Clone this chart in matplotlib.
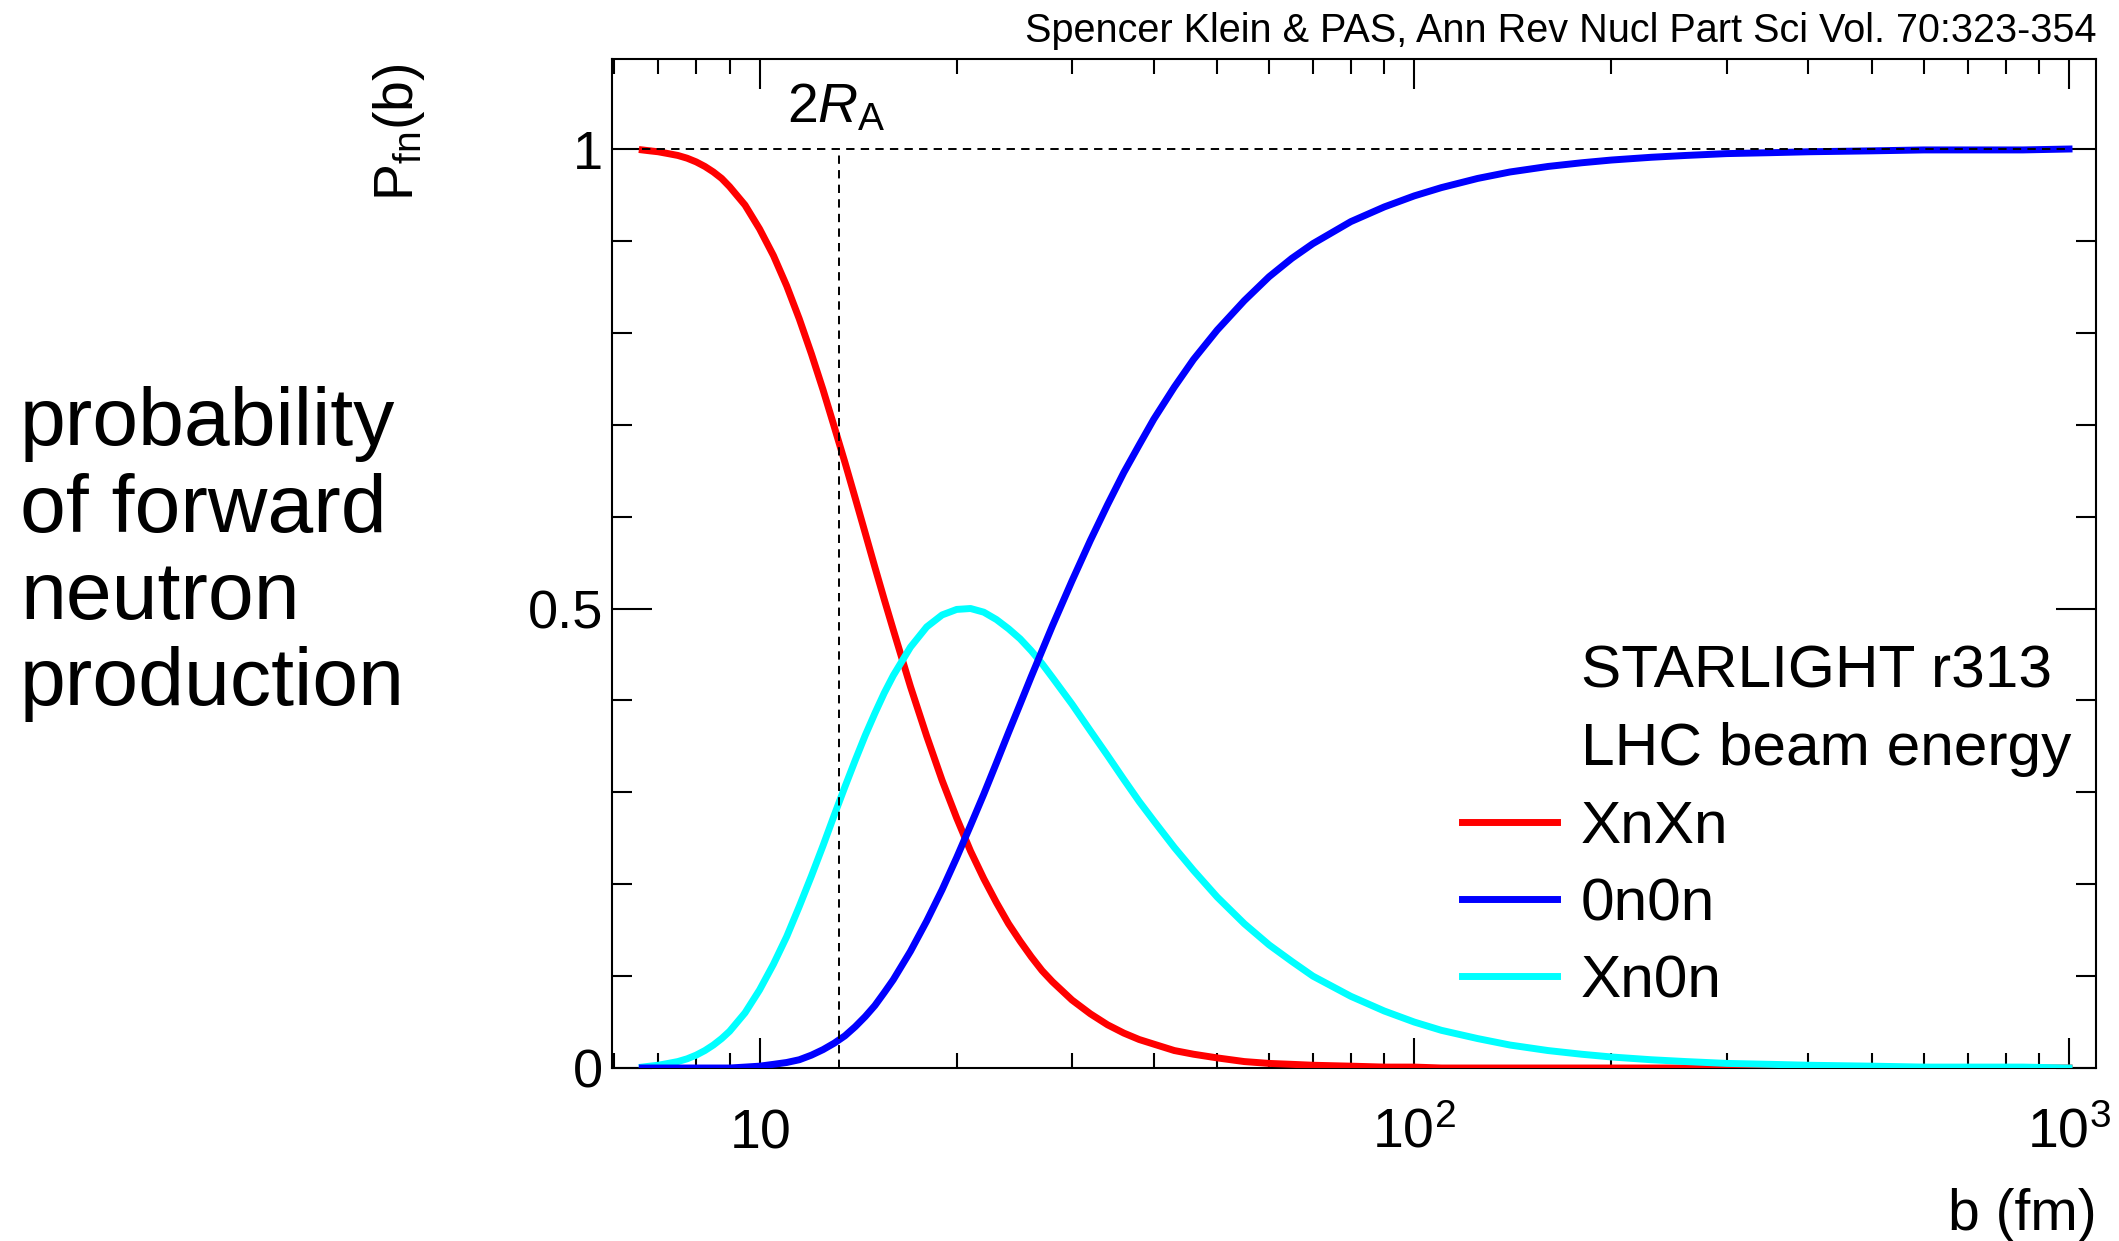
import matplotlib.pyplot as plt
from matplotlib.lines import Line2D
from matplotlib.ticker import FixedLocator, LogLocator, MultipleLocator, NullFormatter

plt.rcParams['font.family'] = 'Liberation Sans'
plt.rcParams['mathtext.fontset'] = 'custom'
plt.rcParams['mathtext.rm'] = 'Liberation Sans'
plt.rcParams['mathtext.it'] = 'Liberation Sans:italic'
plt.rcParams['lines.scale_dashes'] = False

# impact parameter (fm) and probabilities
b_fm = [6.62, 6.8, 7, 7.25, 7.5, 7.75, 8, 8.25, 8.5, 8.75, 9, 9.5, 10, 10.5, 11,
        11.5, 12, 12.5, 13, 13.5, 14, 14.5, 15, 15.5, 16, 17, 18, 19, 20, 21, 22,
        23, 24, 25, 26, 27, 28, 30, 32, 34, 36, 38, 40, 43, 46, 50, 55, 60, 65,
        70, 80, 90, 100, 110, 125, 140, 160, 180, 200, 230, 260, 300, 350, 400,
        500, 600, 700, 850, 1000]
xnxn = [0.999, 0.998, 0.997, 0.995, 0.993, 0.990, 0.986, 0.981, 0.975, 0.968,
        0.959, 0.939, 0.913, 0.884, 0.851, 0.815, 0.777, 0.738, 0.698, 0.659,
        0.620, 0.582, 0.545, 0.510, 0.477, 0.415, 0.361, 0.313, 0.272, 0.236,
        0.206, 0.180, 0.157, 0.138, 0.121, 0.106, 0.094, 0.074, 0.059, 0.047,
        0.038, 0.031, 0.026, 0.019, 0.015, 0.011, 0.007, 0.005, 0.004, 0.003,
        0.002, 0.001, 0.001, 0.000, 0.000, 0.000, 0.000, 0.000, 0.000, 0.000,
        0.000, 0.000, 0.000, 0.000, 0.000, 0.000, 0.000, 0.000, 0.000]
onon = [0.000, 0.000, 0.000, 0.000, 0.000, 0.000, 0.000, 0.000, 0.000, 0.000,
        0.000, 0.001, 0.002, 0.004, 0.006, 0.009, 0.014, 0.020, 0.027, 0.035,
        0.045, 0.056, 0.068, 0.082, 0.096, 0.127, 0.160, 0.194, 0.229, 0.264,
        0.298, 0.332, 0.365, 0.396, 0.426, 0.454, 0.481, 0.530, 0.574, 0.613,
        0.648, 0.678, 0.706, 0.741, 0.771, 0.803, 0.835, 0.861, 0.881, 0.897,
        0.921, 0.937, 0.949, 0.958, 0.968, 0.975, 0.981, 0.985, 0.988, 0.991,
        0.993, 0.995, 0.996, 0.997, 0.998, 0.999, 0.999, 0.999, 1.000]
xn0n = [0.001, 0.002, 0.003, 0.005, 0.007, 0.010, 0.014, 0.019, 0.025, 0.032,
        0.040, 0.060, 0.085, 0.113, 0.143, 0.176, 0.209, 0.242, 0.275, 0.306,
        0.335, 0.362, 0.386, 0.408, 0.427, 0.458, 0.480, 0.493, 0.499, 0.500,
        0.496, 0.488, 0.478, 0.467, 0.454, 0.440, 0.425, 0.396, 0.367, 0.340,
        0.314, 0.290, 0.269, 0.240, 0.215, 0.186, 0.157, 0.134, 0.116, 0.100,
        0.078, 0.062, 0.050, 0.041, 0.032, 0.025, 0.019, 0.015, 0.012, 0.009,
        0.007, 0.005, 0.004, 0.003, 0.002, 0.001, 0.001, 0.001, 0.000]
two_ra = 13.24

x_ticks = [10, 100, 1000]
x_ticklabels = [r'$10$', r'$10^{2}$', r'$10^{3}$']
y_ticks = [0, 0.5, 1]
y_ticklabels = ['0', '0.5', '1']

fig = plt.figure(figsize=(21.19, 12.41), dpi=100)
ax = fig.add_axes([0.2888, 0.1394, 0.7004, 0.8131])

lw = 5.0
l_red, = ax.plot(b_fm, xnxn, color='#ff0000', lw=lw, zorder=3)
l_cyan, = ax.plot(b_fm, xn0n, color='#00ffff', lw=lw, zorder=4)
l_blue, = ax.plot(b_fm, onon, color='#0000ff', lw=lw, zorder=5)

# dashed guides: P = 1 and b = 2 R_A
ax.hlines(1, b_fm[0], b_fm[-1], colors='k', lw=1.4, linestyles=(0, (6, 4.5)), zorder=6)
ax.vlines(two_ra, 0, 1, colors='k', lw=1.4, linestyles=(0, (6, 4.5)), zorder=6)

ax.set_xscale('log')
ax.set_xlim(5.95, 1100)
ax.set_ylim(0, 1.098)

ax.xaxis.set_major_locator(FixedLocator(x_ticks))
ax.set_xticklabels(x_ticklabels)
ax.xaxis.set_minor_locator(LogLocator(base=10, subs=range(2, 10), numticks=20))
ax.xaxis.set_minor_formatter(NullFormatter())
ax.set_yticks(y_ticks, y_ticklabels)
ax.yaxis.set_minor_locator(MultipleLocator(0.1))

ax.tick_params(axis='x', which='major', direction='in', length=21.6, width=1.5,
               top=True, labelsize=40, pad=57)
ax.tick_params(axis='x', which='minor', direction='in', length=10.8, width=1.5, top=True)
ax.tick_params(axis='y', which='major', direction='in', length=28.8, width=1.5,
               right=True, labelsize=39, pad=6.5)
ax.tick_params(axis='y', which='minor', direction='in', length=14.4, width=1.5, right=True)
for lab in ax.get_xticklabels():
    lab.set_verticalalignment('baseline')
for sp in ax.spines.values():
    sp.set_linewidth(1.5)

ax.text(11.0, 1.029, r'$2\mathit{R}_{\mathrm{A}}$', fontsize=40, ha='left', va='baseline')

fig.text(0.1949, 0.9492, r'P$_{\mathrm{fn}}$(b)', fontsize=40, rotation=90,
         rotation_mode='anchor', ha='right', va='baseline')
fig.text(0.9896, 0.0089, 'b (fm)', fontsize=41, ha='right', va='baseline')
fig.text(0.9896, 0.966, 'Spencer Klein & PAS, Ann Rev Nucl Part Sci Vol. 70:323-354',
         fontsize=28.5, ha='right', va='baseline')

side_lines = ['probability', 'of forward', 'neutron', 'production']
for i, line in enumerate(side_lines):
    fig.text(0.0095, 0.6414 - i * 0.0699, line, fontsize=59.3, ha='left', va='baseline')

blank = Line2D([], [], color='none')
handles = [blank, blank, l_red, l_blue, l_cyan]
labels = ['STARLIGHT r313', 'LHC beam energy', 'XnXn', '0n0n', 'Xn0n']
fig.legend(handles, labels, loc='upper left', bbox_to_anchor=(1462 / 2119, 1 - 645 / 1241),
           frameon=False, fontsize=43.5, handlelength=1.57, handletextpad=0.40,
           labelspacing=0.37, borderpad=0, borderaxespad=0)

fig.savefig('out.png', dpi=100)
